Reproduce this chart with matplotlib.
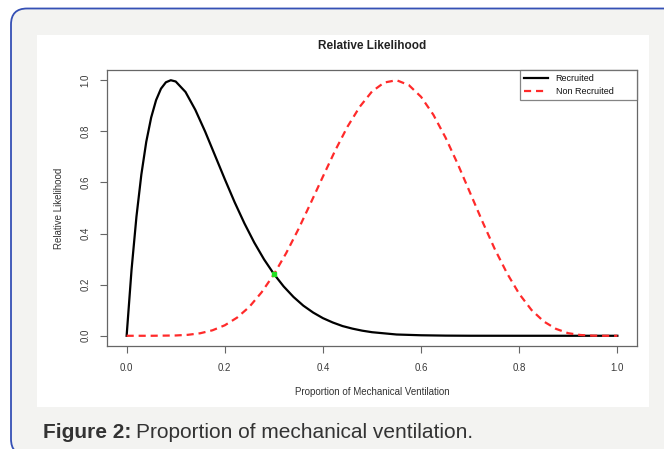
import matplotlib
matplotlib.use("Agg")
import matplotlib.pyplot as plt
from matplotlib.patches import FancyBboxPatch, Rectangle


# values
recruited_x = [0.0, 0.01, 0.02, 0.03, 0.04, 0.05, 0.06, 0.07, 0.08, 0.09,
               0.10, 0.12, 0.14, 0.16, 0.18, 0.20, 0.22, 0.24, 0.26, 0.28,
               0.30, 0.32, 0.34, 0.36, 0.38, 0.40, 0.42, 0.44, 0.46, 0.48,
               0.50, 0.55, 0.60, 0.65, 0.70, 0.80, 0.90, 1.0]
recruited_y = [0.0, 0.258, 0.466, 0.631, 0.759, 0.854, 0.922, 0.967, 0.992, 1.0,
               0.995, 0.954, 0.884, 0.799, 0.706, 0.613, 0.523, 0.440, 0.365, 0.299,
               0.242, 0.193, 0.152, 0.118, 0.091, 0.069, 0.052, 0.038, 0.028, 0.020,
               0.014, 0.005, 0.002, 0.0006, 0.0001, 0.0, 0.0, 0.0]

non_recruited_x = [0.0, 0.05, 0.10, 0.125, 0.15, 0.175, 0.20, 0.225, 0.25, 0.275,
                   0.30, 0.325, 0.35, 0.375, 0.40, 0.425, 0.45, 0.475, 0.50, 0.525,
                   0.55, 0.575, 0.60, 0.625, 0.65, 0.675, 0.70, 0.725, 0.75, 0.775,
                   0.80, 0.825, 0.85, 0.875, 0.90, 0.925, 0.95, 0.975, 1.0]
non_recruited_y = [0.0, 0.0, 0.0012, 0.0038, 0.0099, 0.0215, 0.041, 0.071, 0.113, 0.170,
                   0.240, 0.323, 0.417, 0.519, 0.623, 0.725, 0.818, 0.896, 0.956, 0.991,
                   1.0, 0.981, 0.935, 0.865, 0.775, 0.671, 0.559, 0.447, 0.340, 0.245,
                   0.164, 0.101, 0.056, 0.027, 0.010, 0.003, 0.0005, 0.0, 0.0]

cross_x = [0.30]
cross_y = [0.241]

tick_values = [0.0, 0.2, 0.4, 0.6, 0.8, 1.0]
tick_labels = ["0.0", "0.2", "0.4", "0.6", "0.8", "1.0"]

W, H = 664, 449

plt.rcParams["font.family"] = ["Liberation Sans", "DejaVu Sans"]

fig = plt.figure(figsize=(W / 100, H / 100), dpi=100)
fig.patch.set_facecolor("white")

# outer rounded frame and grey card, pixel coordinates
card = FancyBboxPatch((11, -6), 700, H - 8 + 6 - 0.5,
                      boxstyle="round,pad=0,rounding_size=16",
                      transform=None, facecolor="#f3f3f1",
                      edgecolor="#3550b5", linewidth=1.3, zorder=0)
fig.patches.append(card)

panel = Rectangle((37, H - 407), 612, 372, transform=None,
                  facecolor="white", edgecolor="none", zorder=1)
fig.patches.append(panel)

ax = fig.add_axes([107 / W, 1 - 346 / H, (637 - 107) / W, (346 - 70) / H])
ax.set_zorder(2)

ax.plot(recruited_x, recruited_y, color="black", linewidth=1.6,
        label="Recruited")
ax.plot(non_recruited_x, non_recruited_y, color="#ff2a2a", linewidth=1.6,
        linestyle=(0, (3.2, 2.2)), label="Non Recruited")
ax.plot(cross_x, cross_y, "s", color="#22e022", markersize=3.5)

ax.set_xlim(-0.04, 1.04)
ax.set_ylim(-0.04, 1.04)

ax.set_xticks(tick_values)
ax.set_xticklabels(tick_labels)
ax.set_yticks(tick_values)
ax.set_yticklabels(tick_labels, rotation=90, va="center")

ax.tick_params(direction="out", length=5, width=0.8, colors="#666666",
               labelcolor="#3a3a3a", labelsize=7, pad=7)

for spine in ax.spines.values():
    spine.set_color("#666666")
    spine.set_linewidth(0.9)

ax.set_xlabel("Proportion of Mechanical Ventilation", fontsize=7,
              color="#333333", labelpad=10)
ax.set_ylabel("Relative Likelihood", fontsize=7, color="#333333",
              labelpad=12)

fig.text(0.5 * (107 + 637) / W, 1 - 46 / H, "Relative Likelihood",
         fontsize=8.5, fontweight="bold", color="#222222",
         ha="center", va="center")

# legend box stretched to the reference size, top right corner
leg_w = 117 / 530
leg_h = 28 / 276
leg = ax.legend(loc="upper left", bbox_to_anchor=(1 - leg_w, 1 - leg_h, leg_w, leg_h),
                mode="expand", borderaxespad=0, fancybox=False,
                handlelength=2.7, handletextpad=0.8,
                borderpad=0.45, labelspacing=0.45,
                prop={"family": ["Liberation Sans Narrow", "Liberation Sans"],
                      "size": 6.5})
leg.get_frame().set_edgecolor("#666666")
leg.get_frame().set_linewidth(0.9)
for txt in leg.get_texts():
    txt.set_color("#111111")

# caption
cap_y = 1 - 433 / H
t1 = fig.text(43 / W, cap_y, "Figure 2:", fontsize=15, fontweight="bold",
              color="#333333", va="center", ha="left")
fig.canvas.draw()
bb = t1.get_window_extent(renderer=fig.canvas.get_renderer())
fig.text((bb.x1 + 5) / W, cap_y, "Proportion of mechanical ventilation.",
         fontsize=15, color="#333333", va="center", ha="left")

fig.savefig("out.png", dpi=100)
